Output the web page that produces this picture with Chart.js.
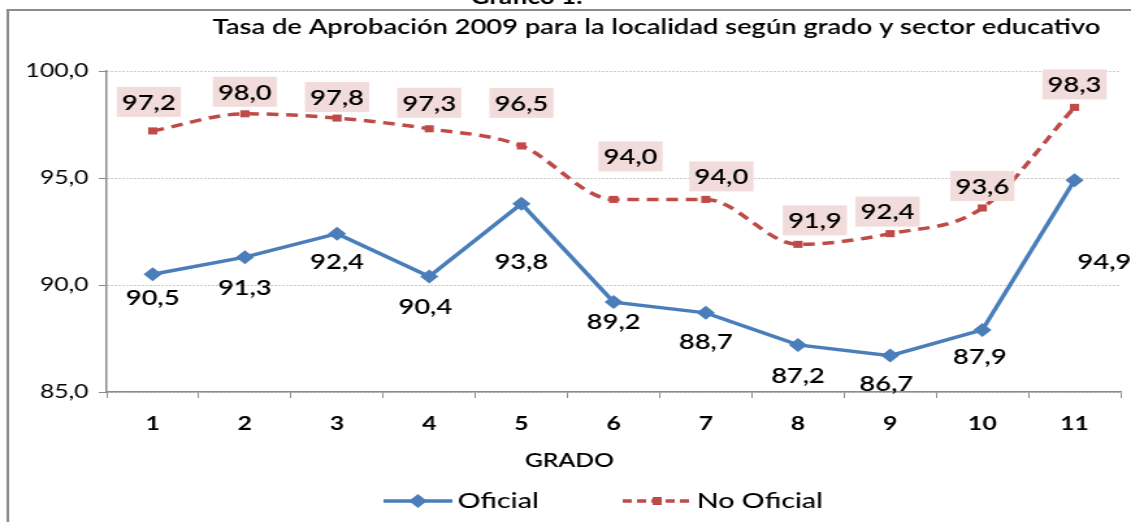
<!DOCTYPE html>
<html>
<head>
<meta charset="utf-8">
<script src="https://cdn.jsdelivr.net/npm/chart.js@4.4.0/dist/chart.umd.min.js"></script>
<style>
  html, body { margin: 0; padding: 0; background: #fff; overflow: hidden; }
  /* the original picture is stretched sideways, so the whole chart is too */
  #wrap { width: 870px; height: 522px; transform: scaleX(1.3); transform-origin: 0 0; }
</style>
</head>
<body>
<div id="wrap"><canvas id="grafico" width="870" height="522"></canvas></div>
<script>
// data
const grados = ['1', '2', '3', '4', '5', '6', '7', '8', '9', '10', '11'];
const oficial = [90.5, 91.3, 92.4, 90.4, 93.8, 89.2, 88.7, 87.2, 86.7, 87.9, 94.9];
const noOficial = [97.2, 98.0, 97.8, 97.3, 96.5, 94.0, 94.0, 91.9, 92.4, 93.6, 98.3];
const yTicks = [85, 90, 95, 100];

const AZUL = '#4A7EBB';
const ROJO = '#BE4B48';
const ROSA = '#F2DCDB';
const GRIS = '#8C8C8C';
const FONT = 'Lato, "Open Sans", sans-serif';

// label nudges (pixels), the way they were placed by hand in the original
const labelNudge = {
  oficial: { dx: [0, 0, 0, -3, 0, 0, 0, 0, -3, -2, 23], dy: [24, 31, 29, 31, 59, 20, 29, 31, 29, 27, 82] },
  noOficial: { dx: [-3, 0, 0, 0, 0, 13, 12, 13, -2, 0, 0], dy: [-29, -22, -21, -26, -43, -43, -23, -24, -22, -22, -23] }
};

const fmt = v => v.toFixed(1).replace('.', ',');

// frame, titles, labels and legend drawn around the chart
const decor = {
  id: 'decor',
  beforeDraw(chart) {
    const ctx = chart.ctx;
    ctx.save();
    ctx.strokeStyle = GRIS;
    ctx.lineWidth = 2;
    ctx.beginPath();
    ctx.moveTo(6, 522);
    ctx.lineTo(6, 10);
    ctx.lineTo(870, 10);
    ctx.stroke();
    ctx.fillStyle = '#000';
    ctx.font = 'bold 20px ' + FONT;
    ctx.textAlign = 'center';
    ctx.textBaseline = 'alphabetic';
    ctx.fillText('Gráfico 1.', 405, 4);
    ctx.font = '600 21px ' + FONT;
    ctx.textBaseline = 'middle';
    ctx.fillText('Tasa de Aprobación 2009 para la localidad según grado y sector educativo', 505, 27);
    ctx.font = '600 19px ' + FONT;
    ctx.fillText('GRADO', 438, 461);
    ctx.restore();
  },
  afterDatasetsDraw(chart) {
    const ctx = chart.ctx;
    ctx.save();
    ctx.font = '600 21px ' + FONT;
    ctx.textAlign = 'center';
    ctx.textBaseline = 'middle';
    chart.getDatasetMeta(1).data.forEach((pt, i) => {
      const x = pt.x + labelNudge.noOficial.dx[i];
      const y = pt.y + labelNudge.noOficial.dy[i];
      const t = fmt(noOficial[i]);
      const w = ctx.measureText(t).width + 8;
      ctx.fillStyle = ROSA;
      ctx.fillRect(x - w / 2, y - 15, w, 30);
      ctx.fillStyle = '#000';
      ctx.fillText(t, x, y + 1);
    });
    chart.getDatasetMeta(0).data.forEach((pt, i) => {
      ctx.fillStyle = '#000';
      ctx.fillText(fmt(oficial[i]), pt.x + labelNudge.oficial.dx[i], pt.y + labelNudge.oficial.dy[i]);
    });
    ctx.restore();
  },
  afterDraw(chart) {
    const ctx = chart.ctx;
    ctx.save();
    const y = 501;
    ctx.strokeStyle = AZUL;
    ctx.lineWidth = 3.5;
    ctx.beginPath(); ctx.moveTo(295, y); ctx.lineTo(348, y); ctx.stroke();
    ctx.fillStyle = AZUL;
    ctx.beginPath();
    ctx.moveTo(321.5, y - 7); ctx.lineTo(328.5, y); ctx.lineTo(321.5, y + 7); ctx.lineTo(314.5, y);
    ctx.closePath(); ctx.fill();
    ctx.strokeStyle = ROJO;
    ctx.setLineDash([7, 4]);
    ctx.beginPath(); ctx.moveTo(479, y); ctx.lineTo(532, y); ctx.stroke();
    ctx.setLineDash([]);
    ctx.fillStyle = ROJO;
    ctx.fillRect(502, y - 4, 7, 8);
    ctx.fillStyle = '#000';
    ctx.font = '500 22px ' + FONT;
    ctx.textAlign = 'left';
    ctx.textBaseline = 'middle';
    ctx.fillText('Oficial', 352, y);
    ctx.fillText('No Oficial', 536, y);
    ctx.restore();
  }
};

new Chart(document.getElementById('grafico'), {
  type: 'line',
  data: {
    labels: grados,
    datasets: [
      {
        label: 'Oficial',
        data: oficial,
        borderColor: AZUL,
        backgroundColor: AZUL,
        borderWidth: 3.5,
        pointStyle: 'rectRot',
        pointRadius: 7,
        pointBorderWidth: 0,
        tension: 0
      },
      {
        label: 'No Oficial',
        data: noOficial,
        borderColor: ROJO,
        backgroundColor: ROJO,
        borderWidth: 3.5,
        borderDash: [9, 6],
        pointStyle: 'rect',
        pointRadius: 5,
        pointBorderWidth: 0,
        cubicInterpolationMode: 'monotone'
      }
    ]
  },
  options: {
    responsive: false,
    animation: false,
    layout: { padding: { left: 5, right: 8, top: 71, bottom: 0 } },
    plugins: {
      legend: { display: false },
      title: { display: false },
      tooltip: { enabled: false }
    },
    scales: {
      x: {
        offset: true,
        afterFit(s) { s.height = 130; },
        grid: { offset: true, drawOnChartArea: false, drawTicks: true, tickLength: 6, tickColor: GRIS },
        border: { color: GRIS, width: 1.5 },
        ticks: { color: '#000', font: { family: FONT, size: 19, weight: 'bold' }, padding: 14 }
      },
      y: {
        min: 85,
        max: 100,
        afterFit(s) { s.width = 77; },
        afterBuildTicks(s) { s.ticks = yTicks.map(v => ({ value: v })); },
        grid: { color: '#9a9a9a', lineWidth: 1, tickLength: 6, tickColor: GRIS, tickBorderDash: [] },
        border: { color: GRIS, width: 1.5, dash: [1, 2] },
        ticks: { color: '#000', font: { family: FONT, size: 19 }, padding: 8, callback: v => fmt(v) }
      }
    }
  },
  plugins: [decor]
});
</script>
</body>
</html>
